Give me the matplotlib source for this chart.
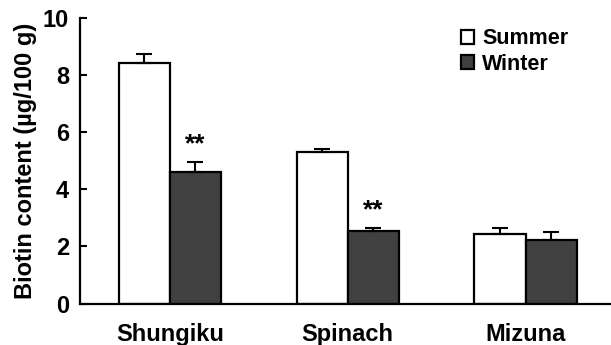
import matplotlib.pyplot as plt
import numpy as np

plt.rcParams['font.family'] = ['Liberation Sans', 'DejaVu Sans']
plt.rcParams['font.weight'] = 'bold'

vegetables = ['Shungiku', 'Spinach', 'Mizuna']
summer = [8.40, 5.31, 2.45]
summer_err = [0.33, 0.08, 0.20]
winter = [4.61, 2.53, 2.24]
winter_err = [0.35, 0.12, 0.27]
marks = ['**', '**', '']

x = np.arange(len(vegetables))
w = 0.287

fig = plt.figure(figsize=(6.11, 3.45), dpi=100)
ax = fig.add_axes([0.131, 0.12, 0.867, 0.829])

ekw = dict(ecolor='black', elinewidth=1.5, capsize=6, capthick=1.5)
ax.bar(x - w / 2, summer, w, color='white', edgecolor='black', linewidth=1.6,
       yerr=[np.zeros(3), summer_err], error_kw=ekw, label='Summer')
ax.bar(x + w / 2, winter, w, color='#404040', edgecolor='black', linewidth=1.6,
       yerr=[np.zeros(3), winter_err], error_kw=ekw, label='Winter')

for xi, v, e, m in zip(x, winter, winter_err, marks):
    if m:
        ax.text(xi + w / 2, v + e + 0.6, m, ha='center', va='center', fontsize=19, fontweight='bold')

ax.set_xlim(-0.506, 2.474)
ax.set_ylim(0, 10)
ax.set_yticks([0, 2, 4, 6, 8, 10])
ax.set_xticks(x)
ax.set_xticklabels(vegetables, fontsize=17, fontweight='bold')
ax.tick_params(axis='y', direction='in', length=5, width=1.5, labelsize=17, pad=8)
ax.tick_params(axis='x', length=0, pad=14)
ax.set_ylabel('Biotin content (µg/100 g)', fontsize=17, fontweight='bold', labelpad=4)
for s in ['top', 'right']:
    ax.spines[s].set_visible(False)
for s in ['left', 'bottom']:
    ax.spines[s].set_linewidth(1.6)

fig.legend(loc='upper left', bbox_to_anchor=(0.754, 0.918), frameon=False, fontsize=15.5,
           handlelength=0.6, handleheight=0.6, handletextpad=0.4, labelspacing=0.2,
           borderpad=0, borderaxespad=0)

fig.savefig('out.png', dpi=100)
